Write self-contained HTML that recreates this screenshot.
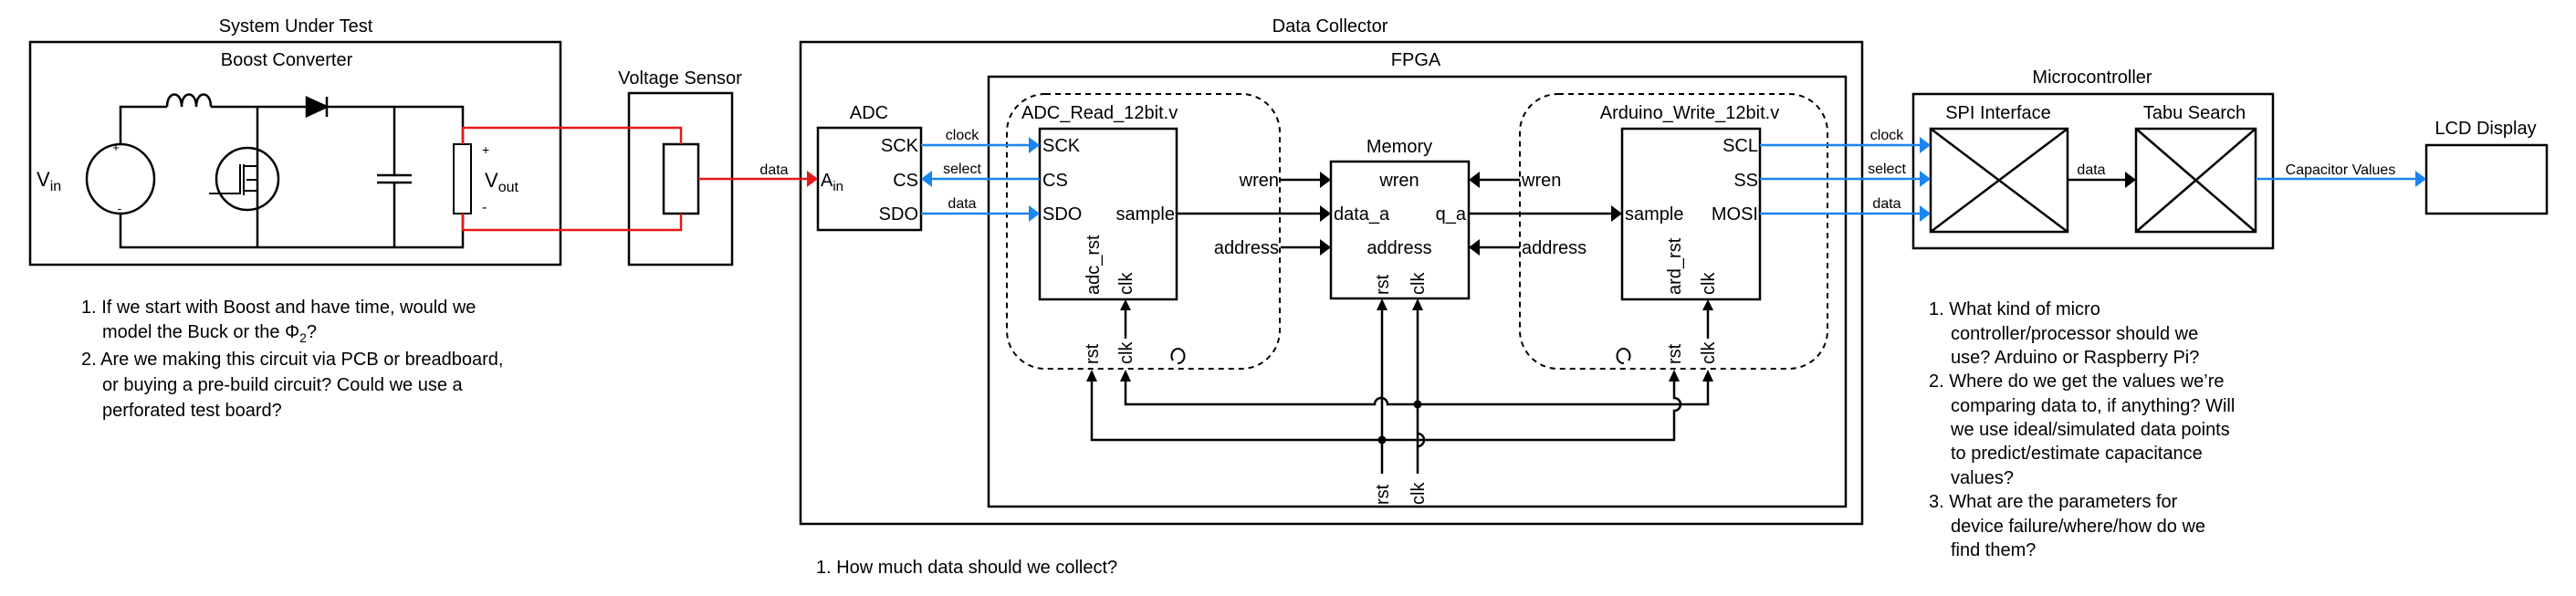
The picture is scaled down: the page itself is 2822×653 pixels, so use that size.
<!DOCTYPE html>
<html><head><meta charset="utf-8"><style>
html,body{margin:0;padding:0;background:#fff;}
svg{display:block;font-family:"Liberation Sans",Arial,sans-serif;}
</style></head><body>
<svg width="2822" height="653" viewBox="0 0 2822 653" xmlns="http://www.w3.org/2000/svg">
<defs>
<marker id="ab" markerWidth="10" markerHeight="10" refX="9" refY="5" orient="auto" markerUnits="userSpaceOnUse"><path d="M0,-1 L10,5 L0,11 z" fill="#000" transform="translate(0,0) scale(1,0.83)"/></marker>
</defs>
<g fill="none" stroke="#000" stroke-width="2.5">
<!-- System under test -->
<rect x="33" y="46" width="581" height="244"/>
<!-- circuit -->
<path d="M132,158 V117 H183 M231,117 H336 M358,117 H507 V158 M507,234 V271 H132 V234"/>
<path d="M183,117 c0,-18 16,-18 16,0 c0,-18 16,-18 16,0 c0,-18 16,-18 16,0" />
<ellipse cx="132" cy="196" rx="37" ry="38"/>
<path d="M282,117 V271"/>
<circle cx="271" cy="196" r="34"/>
<path d="M229,212 H263 V180 M267,180 V214 M267,182 H282 M267,209 H282 M270,197 H282" stroke-width="2"/>
<path d="M336,107 L358,117 L336,127 z" fill="#000"/>
<path d="M358,106 V128"/>
<path d="M432,117 V192 M432,200 V271 M413,192 H451 M413,200 H451"/>
<rect x="497" y="158" width="19" height="76" stroke-width="2"/>
<!-- voltage sensor -->
<rect x="689" y="102" width="113" height="188"/>
<rect x="727" y="158" width="38" height="76"/>
<!-- data collector -->
<rect x="877" y="46" width="1163" height="528"/>
<rect x="1083" y="84" width="939" height="471"/>
<rect x="896" y="140" width="113" height="112"/>
<rect x="1103" y="103" width="299" height="301" rx="42" stroke-dasharray="6,5" stroke-width="2"/>
<rect x="1665" y="103" width="337" height="301" rx="42" stroke-dasharray="6,5" stroke-width="2"/>
<rect x="1139" y="141" width="150" height="187"/>
<rect x="1458" y="177" width="151" height="150"/>
<rect x="1777" y="141" width="151" height="187"/>
<!-- microcontroller -->
<rect x="2096" y="103" width="394" height="169"/>
<rect x="2115" y="141" width="150" height="113"/>
<path d="M2115,141 L2265,254 M2265,141 L2115,254"/>
<rect x="2340" y="141" width="131" height="113"/>
<path d="M2340,141 L2471,254 M2471,141 L2340,254"/>
<rect x="2658" y="159" width="132" height="75"/>
</g>
<!-- red -->
<g fill="none" stroke="#e81818" stroke-width="2.5">
<path d="M507,158 V140 H746 V158 M507,234 V252 H746 V234 M765,196 H885"/>
</g>
<path d="M884,187 L896,196 L884,205 z" fill="#e81818"/>
<!-- blue -->
<g fill="none" stroke="#1a85f0" stroke-width="2.5">
<path d="M1009,159 H1128 M1020,196 H1139 M1009,234 H1128 M1928,159 H2104 M1928,196 H2104 M1928,234 H2104 M2471,196 H2646"/>
</g>
<g fill="#1a85f0">
<path d="M1127,150 L1139,159 L1127,168 z M1021,187 L1009,196 L1021,205 z M1127,225 L1139,234 L1127,243 z"/>
<path d="M2103,150 L2115,159 L2103,168 z M2103,187 L2115,196 L2103,205 z M2103,225 L2115,234 L2103,243 z M2646,187 L2658,196 L2646,205 z"/>
</g>
<!-- black arrows -->
<g fill="none" stroke="#000" stroke-width="2.5">
<path d="M1403,197 H1446 M1289,234 H1446 M1403,271 H1446 M1665,197 H1621 M1665,271 H1621 M1609,234 H1765 M2265,197 H2328"/>
<path d="M1233,371 V340 M1871,371 V340 M1514,519 V340 M1553,519 V340"/>
<path d="M1233,418 V443 H1506 a7,7 0 0 1 14,0 H1871 V418"/>
<path d="M1196,418 V482 H1834 V450 a7,7 0 0 0 0,-14 V418"/>
<path d="M1553,475 a7,7 0 0 1 0,14"/>
</g>
<path d="M1553,443 V475 M1553,489 V519" stroke="#fff" stroke-width="0"/>
<g fill="#000">
<path d="M1446,188 L1458,197 L1446,206 z M1446,225 L1458,234 L1446,243 z M1446,262 L1458,271 L1446,280 z"/>
<path d="M1621,188 L1609,197 L1621,206 z M1621,262 L1609,271 L1621,280 z M1765,225 L1777,234 L1765,243 z M2328,188 L2340,197 L2328,206 z"/>
<path d="M1227,340 L1233,328 L1239,340 z M1865,340 L1871,328 L1877,340 z M1508,340 L1514,327 L1520,340 z M1547,340 L1553,327 L1559,340 z"/>
<path d="M1190,418 L1196,405 L1202,418 z M1227,418 L1233,405 L1239,418 z M1828,418 L1834,405 L1840,418 z M1865,418 L1871,405 L1877,418 z"/>
<circle cx="1553" cy="443" r="4.5"/><circle cx="1514" cy="482" r="4.5"/>
</g>
<g fill="none" stroke="#000" stroke-width="2">
<path d="M1290,398 a7,8 0 1 0 -5,-3"/><path d="M1779,398 a7,8 0 1 1 5,-3"/>
</g>
<!-- text -->
<g font-size="20" fill="#000">
<text x="324" y="35" text-anchor="middle">System Under Test</text>
<text x="314" y="72" text-anchor="middle">Boost Converter</text>
<text x="745" y="92" text-anchor="middle">Voltage Sensor</text>
<text x="1457" y="35" text-anchor="middle">Data Collector</text>
<text x="1551" y="72" text-anchor="middle">FPGA</text>
<text x="952" y="130" text-anchor="middle">ADC</text>
<text x="1119" y="130">ADC_Read_12bit.v</text>
<text x="1851" y="130" text-anchor="middle">Arduino_Write_12bit.v</text>
<text x="1533" y="167" text-anchor="middle">Memory</text>
<text x="2292" y="91" text-anchor="middle">Microcontroller</text>
<text x="2189" y="130" text-anchor="middle">SPI Interface</text>
<text x="2404" y="130" text-anchor="middle">Tabu Search</text>
<text x="2723" y="147" text-anchor="middle">LCD Display</text>
<text x="40" y="204" font-size="22">V<tspan font-size="16" dy="5">in</tspan></text>
<text x="531" y="205" font-size="22">V<tspan font-size="16" dy="5">out</tspan></text>
<text x="528" y="169" font-size="14">+</text>
<text x="528" y="232" font-size="16">-</text>
<text x="127" y="166" font-size="13" text-anchor="middle">+</text>
<text x="131" y="233" font-size="14" text-anchor="middle">-</text>
<text x="899" y="204">A<tspan font-size="15" dy="5">in</tspan></text>
<g text-anchor="end"><text x="1006" y="166">SCK</text><text x="1006" y="204">CS</text><text x="1006" y="241">SDO</text>
<text x="1287" y="241">sample</text><text x="1401" y="204">wren</text><text x="1401" y="278">address</text>
<text x="1606" y="241">q_a</text>
<text x="1926" y="166">SCL</text><text x="1926" y="204">SS</text><text x="1926" y="241">MOSI</text></g>
<text x="1142" y="166">SCK</text><text x="1142" y="204">CS</text><text x="1142" y="241">SDO</text>
<text x="1461" y="241">data_a</text>
<text x="1533" y="204" text-anchor="middle">wren</text><text x="1533" y="278" text-anchor="middle">address</text>
<text x="1667" y="204">wren</text><text x="1667" y="278">address</text>
<text x="1780" y="241">sample</text>
<g font-size="16"><text x="848" y="191" text-anchor="middle">data</text>
<text x="1054" y="153" text-anchor="middle">clock</text><text x="1054" y="190" text-anchor="middle">select</text><text x="1054" y="228" text-anchor="middle">data</text>
<text x="2067" y="153" text-anchor="middle">clock</text><text x="2067" y="190" text-anchor="middle">select</text><text x="2067" y="228" text-anchor="middle">data</text>
<text x="2291" y="191" text-anchor="middle">data</text>
<text x="2564" y="191" text-anchor="middle">Capacitor Values</text></g>
<g>
<text transform="translate(1204,323) rotate(-90)">adc_rst</text>
<text transform="translate(1240,323) rotate(-90)">clk</text>
<text transform="translate(1521,323) rotate(-90)">rst</text>
<text transform="translate(1560,323) rotate(-90)">clk</text>
<text transform="translate(1841,323) rotate(-90)">ard_rst</text>
<text transform="translate(1878,323) rotate(-90)">clk</text>
<text transform="translate(1203,399) rotate(-90)">rst</text>
<text transform="translate(1240,399) rotate(-90)">clk</text>
<text transform="translate(1841,399) rotate(-90)">rst</text>
<text transform="translate(1878,399) rotate(-90)">clk</text>
<text transform="translate(1521,553) rotate(-90)">rst</text>
<text transform="translate(1560,553) rotate(-90)">clk</text>
</g>
<g>
<text x="89" y="343">1. If we start with Boost and have time, would we</text>
<text x="112" y="370">model the Buck or the Φ<tspan font-size="14" dy="5">2</tspan><tspan dy="-5">?</tspan></text>
<text x="89" y="400">2. Are we making this circuit via PCB or breadboard,</text>
<text x="112" y="428">or buying a pre-build circuit? Could we use a</text>
<text x="112" y="456">perforated test board?</text>
<text x="894" y="628">1. How much data should we collect?</text>
<text x="2113" y="345">1. What kind of micro</text>
<text x="2137" y="372">controller/processor should we</text>
<text x="2137" y="398">use? Arduino or Raspberry Pi?</text>
<text x="2113" y="424">2. Where do we get the values we’re</text>
<text x="2137" y="451">comparing data to, if anything? Will</text>
<text x="2137" y="477">we use ideal/simulated data points</text>
<text x="2137" y="503">to predict/estimate capacitance</text>
<text x="2137" y="530">values?</text>
<text x="2113" y="556">3. What are the parameters for</text>
<text x="2137" y="583">device failure/where/how do we</text>
<text x="2137" y="609">find them?</text>
</g>
</g>
</svg>
</body></html>
